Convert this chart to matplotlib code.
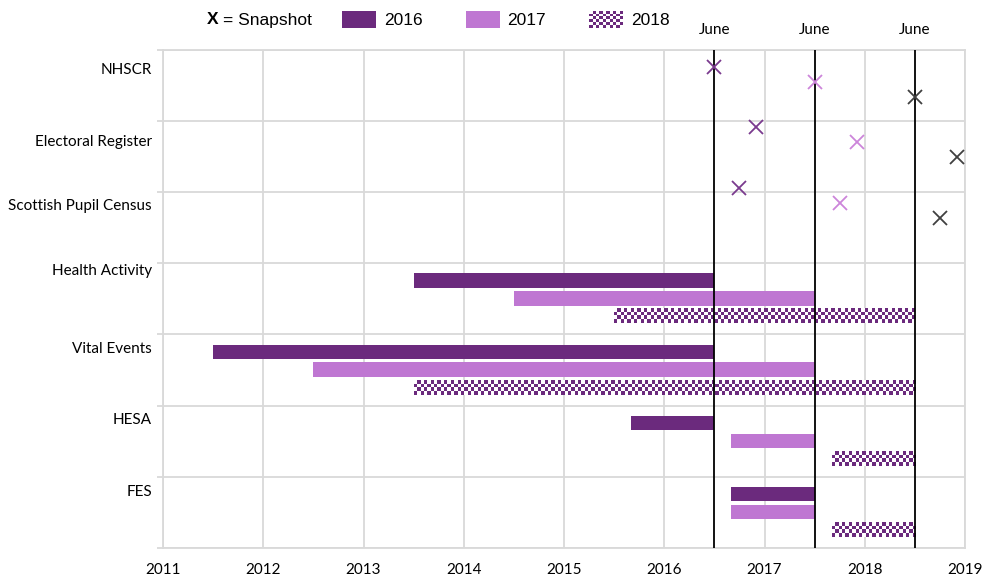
import numpy as np
import matplotlib
matplotlib.use("Agg")
import matplotlib.pyplot as plt
from matplotlib.patches import Rectangle, Patch
from matplotlib.legend_handler import HandlerBase
from matplotlib.transforms import blended_transform_factory

# ---------------- data ----------------
categories = ["NHSCR", "Electoral Register", "Scottish Pupil Census",
              "Health Activity", "Vital Events", "HESA", "FES"]
label_y = [0.29, 1.30, 2.20, 3.11, 4.20, 5.20, 6.21]
series = ["2016", "2017", "2018"]

# snapshot markers (x = date, y = row position)
snap_x_2016 = [2016.50, 2016.92, 2016.75]
snap_x_2017 = [2017.50, 2017.92, 2017.75]
snap_x_2018 = [2018.50, 2018.92, 2018.75]
snap_y_2016 = [0.25, 1.09, 1.95]
snap_y_2017 = [0.46, 1.30, 2.16]
snap_y_2018 = [0.67, 1.51, 2.37]

# period bars: Health Activity, Vital Events, HESA, FES
bar_rows = [3, 4, 5, 6]
start_2016 = [2013.5, 2011.5, 2015.67, 2016.67]
end_2016 = [2016.5, 2016.5, 2016.5, 2017.5]
start_2017 = [2014.5, 2012.5, 2016.67, 2016.67]
end_2017 = [2017.5, 2017.5, 2017.5, 2017.5]
start_2018 = [2015.5, 2013.5, 2017.67, 2017.67]
end_2018 = [2018.5, 2018.5, 2018.5, 2018.5]

june_lines = [2016.5, 2017.5, 2018.5]
year_ticks = list(range(2011, 2020))

# ---------------- style ----------------
C16 = "#6B2A7D"
C17 = "#BF77D2"
M16 = "#7A3A8E"
M17 = "#CC85DA"
M18 = "#404040"
GRID = "#D9D9D9"
FONT = "Lato"

W, H = 982, 579
fig = plt.figure(figsize=(W / 100, H / 100), dpi=100)
ax_l, ax_r, ax_t, ax_b = 163, 965, 49.5, 548
ax = fig.add_axes([ax_l / W, 1 - ax_b / H, (ax_r - ax_l) / W, (ax_b - ax_t) / H])
ax.set_xlim(2011, 2019)
ax.set_ylim(7, 0)

px_per_x = (ax_r - ax_l) / 8.0
px_per_y = (ax_b - ax_t) / 7.0

bar_h = 0.2
off = [0.245, 0.495, 0.745]

for j, r in enumerate(bar_rows):
    ax.barh(r + off[0], end_2016[j] - start_2016[j], left=start_2016[j],
            height=bar_h, color=C16, zorder=3)
    ax.barh(r + off[1], end_2017[j] - start_2017[j], left=start_2017[j],
            height=bar_h, color=C17, zorder=3)
    # checkered 2018 bar
    x0, x1 = start_2018[j], end_2018[j]
    yc = r + off[2]
    cell = 3.35
    nx = max(1, int(round((x1 - x0) * px_per_x / cell)))
    ny = max(1, int(round(bar_h * px_per_y / cell)))
    ii, jj = np.indices((ny, nx))
    board = ((ii + jj) % 2).astype(float)
    cmap = matplotlib.colors.ListedColormap(["white", C16])
    ax.imshow(board, cmap=cmap, extent=(x0, x1, yc + bar_h / 2, yc - bar_h / 2),
              interpolation="nearest", aspect="auto", zorder=3)

ax.set_xlim(2011, 2019)
ax.set_ylim(7, 0)

ms, mew = 10, 1.3
ax.plot(snap_x_2016, snap_y_2016, "x", color=M16, ms=ms, mew=mew, zorder=5)
ax.plot(snap_x_2017, snap_y_2017, "x", color=M17, ms=ms, mew=mew, zorder=5)
ax.plot(snap_x_2018, snap_y_2018, "x", color=M18, ms=ms, mew=mew, zorder=5)

for xv in june_lines:
    ax.axvline(xv, color="black", lw=1.3, zorder=4)
    ax.text(xv, 1 + (ax_t - 30) / (ax_b - ax_t), "June",
            transform=blended_transform_factory(ax.transData, ax.transAxes),
            ha="center", va="center", fontsize=11, family=FONT)

# grid
ax.set_xticks(year_ticks)
ax.set_xticklabels([str(y) for y in year_ticks], fontsize=11, family=FONT)
ax.set_yticks(range(0, 8))
ax.set_yticklabels([])
ax.tick_params(axis="x", length=0, pad=11)
ax.tick_params(axis="y", length=4, color=GRID, width=1.3)
ax.grid(True, color=GRID, lw=1.3, zorder=0)
ax.set_axisbelow(True)
for s in ax.spines.values():
    s.set_color(GRID)
    s.set_linewidth(1.3)

for name, yv in zip(categories, label_y):
    ax.text(-11 / (ax_r - ax_l), yv, name,
            transform=blended_transform_factory(ax.transAxes, ax.transData),
            ha="right", va="center", fontsize=11, family=FONT)

# legend
fig.text(207 / W, 1 - 20 / H, "X", fontsize=12.5, fontweight="bold",
         family="Liberation Sans", va="center", ha="left")
fig.text(223 / W, 1 - 20 / H, "= Snapshot", fontsize=12.5,
         family="Liberation Sans", va="center", ha="left")


class CheckerHandler(HandlerBase):
    def create_artists(self, legend, orig_handle, xdescent, ydescent,
                       width, height, fontsize, trans):
        arts = []
        nx, ny = 10, 6
        cw, ch = width / nx, height / ny
        bg = Rectangle((-xdescent, -ydescent), width, height,
                       facecolor="white", edgecolor="none", transform=trans)
        arts.append(bg)
        for a in range(ny):
            for b in range(nx):
                if (a + b) % 2 == 0:
                    arts.append(Rectangle((-xdescent + b * cw, -ydescent + a * ch),
                                          cw, ch, facecolor=C16, edgecolor="none",
                                          transform=trans))
        return arts


h16 = Patch(facecolor=C16, edgecolor="none")
h17 = Patch(facecolor=C17, edgecolor="none")
h18 = Patch(facecolor=C16, edgecolor="none")
fs = 12.5
fpx = fs * 100 / 72
leg = fig.legend([h16, h17, h18], series, loc="center left",
                 bbox_to_anchor=(342 / W, 1 - 19.5 / H), ncol=3, frameon=False,
                 borderpad=0, borderaxespad=0,
                 prop={"family": "Liberation Sans", "size": fs},
                 handlelength=34 / fpx, handleheight=19 / fpx,
                 handletextpad=8 / fpx, columnspacing=43 / fpx,
                 handler_map={h18: CheckerHandler()})

fig.savefig("out.png", dpi=100)
